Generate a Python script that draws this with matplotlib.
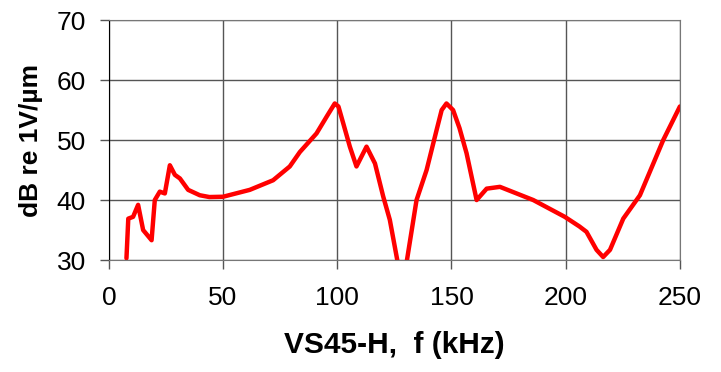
"""
VS45-H sensitivity curve.
"""
import numpy as np
import matplotlib.pyplot as plt

plt.rcParams['font.family'] = ['Liberation Sans', 'DejaVu Sans']

# frequency (kHz) and level (dB re 1V/um)
freq = [7.7, 8.5, 10.6, 12.8, 15.0, 18.7, 20.1, 22.3, 24.5, 26.7, 28.9, 31.1,
        34.7, 39.8, 44.0, 50.0, 61.7, 71.9, 79.2, 83.6, 90.9, 95.5, 98.9,
        100.5, 102.6, 105.5, 108.4, 112.8, 116.5, 120.1, 123.0, 126.5, 128.5,
        130.3, 134.7, 139.1, 143.5, 145.7, 147.8, 150.7, 153.5, 156.6, 161.0,
        165.4, 171.2, 185.8, 199.6, 206.0, 209.1, 213.5, 216.4, 219.4, 225.2,
        232.5, 242.7, 250.0]
level = [30.3, 36.9, 37.2, 39.2, 35.0, 33.3, 40.0, 41.4, 41.1, 45.8, 44.2, 43.6,
         41.7, 40.8, 40.5, 40.55, 41.7, 43.3, 45.6, 48.0, 51.1, 54.0, 56.1,
         55.6, 52.8, 48.9, 45.6, 48.9, 46.1, 40.6, 36.7, 29.5, 27.5,
         29.5, 40.0, 45.0, 51.7, 55.0, 56.1, 55.0, 52.0, 47.8, 40.0,
         41.9, 42.2, 40.0, 37.2, 35.6, 34.7, 31.7, 30.5, 31.7, 36.9,
         40.8, 50.0, 55.6]

xticks = [0, 50, 100, 150, 200, 250]
yticks = [30, 40, 50, 60, 70]

fig = plt.figure(figsize=(7.21, 3.72), dpi=100)
ax = fig.add_axes([0.151, 0.301, 0.792, 0.645])

ax.plot(freq, level, color='#ff0000', linewidth=3.2, solid_joinstyle='round',
        solid_capstyle='round', clip_on=True)

ax.set_xlim(0, 250)
ax.set_ylim(30, 70)
ax.set_xticks(xticks)
ax.set_yticks(yticks)
ax.grid(True, color='#555555', linewidth=1.0)
ax.set_axisbelow(True)

ax.tick_params(axis='both', direction='out', length=6.5, width=1,
               color='#555555', labelsize=19)
ax.tick_params(axis='y', pad=10)
ax.tick_params(axis='x', pad=12)

for side in ['top', 'right']:
    ax.spines[side].set_color('#777777')
ax.spines['left'].set_color('black')
ax.spines['bottom'].set_color('#777777')

ax.set_xlabel('VS45-H,  f (kHz)', fontsize=21.5, fontweight='bold', labelpad=15)
ax.set_ylabel('dB re 1V/µm', fontsize=19, fontweight='bold', labelpad=10)

plt.savefig('out.png', dpi=100)
